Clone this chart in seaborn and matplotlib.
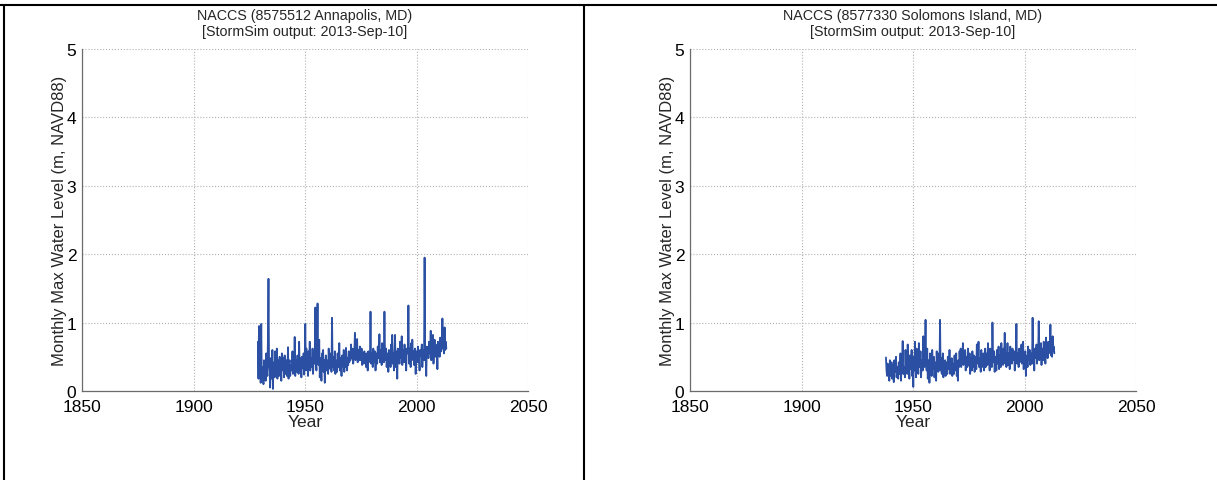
import numpy as np
import pandas as pd
import seaborn as sns
import matplotlib
matplotlib.use("Agg")
import matplotlib.pyplot as plt
from matplotlib.lines import Line2D
from matplotlib.ticker import MultipleLocator

# ---------------- data (quarterly samples of monthly max water level, m NAVD88) ----------------
annapolis_start = 1928.875
annapolis_vals = [
    0.72,
    0.18, 0.95, 0.25, 0.40,  # 1929
    0.12, 0.98, 0.20, 0.35,  # 1930
    0.28, 0.10, 0.45, 0.22,
    0.35, 0.15, 0.55, 0.30,
    0.22, 0.75, 1.64, 0.40,  # 1933
    0.30, 0.05, 0.48, 0.25,
    0.18, 0.60, 0.03, 0.38,
    0.42, 0.20, 0.58, 0.30,
    0.25, 0.62, 0.18, 0.45,
    0.35, 0.22, 0.50, 0.28,
    0.40, 0.15, 0.55, 0.32,
    0.30, 0.48, 0.20, 0.52,  # 1940
    0.38, 0.25, 0.45, 0.22,
    0.28, 0.64, 0.18, 0.40,
    0.45, 0.22, 0.38, 0.30,
    0.35, 0.58, 0.25, 0.42,
    0.30, 0.79, 0.22, 0.45,
    0.40, 0.28, 0.52, 0.35,
    0.25, 0.72, 0.30, 0.48,
    0.42, 0.20, 0.50, 0.33,
    0.38, 0.55, 0.24, 0.45,
    0.98, 0.30, 0.62, 0.35,  # 1950
    0.45, 0.22, 0.58, 0.38,
    0.72, 0.30, 0.48, 0.40,
    0.35, 0.62, 0.25, 0.50,
    0.40, 0.55, 1.22, 0.42,
    0.30, 0.60, 1.28, 0.45,  # 1955
    0.38, 0.75, 0.20, 0.48,
    0.42, 0.15, 0.55, 0.35,
    0.60, 0.28, 0.45, 0.12,
    0.38, 0.52, 0.30, 0.45,
    0.40, 0.25, 0.62, 0.38,  # 1960
    0.48, 0.32, 0.55, 0.28,
    1.07, 0.35, 0.50, 0.40,
    0.30, 0.58, 0.25, 0.45,
    0.42, 0.28, 0.55, 0.35,
    0.38, 0.70, 0.30, 0.48,
    0.45, 0.22, 0.52, 0.36,
    0.40, 0.60, 0.28, 0.50,
    0.35, 0.63, 0.42, 0.30,
    0.48, 0.38, 0.58, 0.42,
    0.55, 0.45, 0.68, 0.50,  # 1970
    0.48, 0.62, 0.40, 0.58,
    0.52, 0.85, 0.45, 0.55,
    0.50, 0.76, 0.42, 0.60,
    0.58, 0.45, 0.65, 0.50,
    0.45, 0.62, 0.38, 0.55,
    0.52, 0.40, 0.58, 0.45,
    0.48, 0.35, 0.55, 0.42,
    0.30, 0.58, 0.42, 0.50,
    0.45, 1.16, 0.40, 0.55,  # 1979
    0.50, 0.35, 0.62, 0.45,  # 1980
    0.42, 0.58, 0.30, 0.52,
    0.55, 0.40, 0.65, 0.48,
    0.48, 0.83, 0.42, 0.60,
    0.52, 0.38, 0.70, 0.45,
    0.58, 0.42, 1.16, 0.50,  # 1985
    0.45, 0.62, 0.35, 0.55,
    0.50, 0.28, 0.60, 0.42,
    0.55, 0.35, 0.68, 0.48,
    0.82, 0.40, 0.55, 0.30,
    0.50, 0.82, 0.35, 0.58,  # 1990
    0.45, 0.18, 0.62, 0.50,
    0.58, 0.40, 0.72, 0.48,
    0.52, 0.80, 0.38, 0.55,
    0.60, 0.42, 0.68, 0.50,
    0.48, 0.30, 0.62, 0.55,
    0.55, 1.25, 0.40, 0.62,  # 1996
    0.50, 0.35, 0.70, 0.45,
    0.75, 0.48, 0.58, 0.38,
    0.52, 0.62, 0.25, 0.55,
    0.58, 0.42, 0.65, 0.50,  # 2000
    0.48, 0.30, 0.60, 0.52,
    0.55, 0.68, 0.35, 0.58,
    0.60, 0.45, 1.95, 0.55,  # 2003
    0.50, 0.22, 0.65, 0.58,
    0.62, 0.48, 0.72, 0.55,
    0.58, 0.88, 0.45, 0.65,
    0.55, 0.82, 0.40, 0.62,
    0.75, 0.50, 0.68, 0.58,
    0.60, 0.32, 0.72, 0.55,
    0.65, 0.50, 0.78, 0.60,  # 2010
    0.58, 0.70, 1.06, 0.62,
    0.68, 0.55, 0.93, 0.60,
    0.72, 0.62,              # 2013
]

solomons_start = 1937.875
solomons_vals = [
    0.49,
    0.30, 0.22, 0.40, 0.25,  # 1938
    0.35, 0.15, 0.45, 0.28,
    0.22, 0.42, 0.18, 0.35,  # 1940
    0.38, 0.13, 0.45, 0.30,
    0.28, 0.50, 0.20, 0.33,
    0.35, 0.18, 0.42, 0.25,
    0.30, 0.55, 0.15, 0.38,
    0.42, 0.73, 0.25, 0.35,
    0.30, 0.20, 0.60, 0.35,
    0.45, 0.25, 0.68, 0.30,
    0.38, 0.18, 0.52, 0.40,
    0.32, 0.60, 0.22, 0.45,
    0.06, 0.50, 0.30, 0.72,  # 1950
    0.40, 0.20, 0.62, 0.35,
    0.48, 0.25, 0.70, 0.38,
    0.35, 0.58, 0.20, 0.45,
    0.42, 0.30, 0.80, 0.38,
    0.35, 0.55, 1.04, 0.40,  # 1955
    0.30, 0.62, 0.18, 0.45,
    0.40, 0.12, 0.55, 0.35,
    0.48, 0.22, 0.60, 0.32,
    0.35, 0.50, 0.20, 0.42,
    0.38, 0.15, 0.58, 0.30,  # 1960
    0.42, 0.28, 0.55, 0.35,
    1.04, 0.30, 0.48, 0.25,
    0.35, 0.55, 0.20, 0.40,
    0.30, 0.45, 0.22, 0.38,
    0.42, 0.25, 0.50, 0.32,
    0.35, 0.60, 0.25, 0.40,
    0.28, 0.48, 0.22, 0.38,
    0.40, 0.25, 0.52, 0.30,
    0.35, 0.55, 0.22, 0.42,
    0.15, 0.45, 0.35, 0.58,  # 1970
    0.42, 0.62, 0.35, 0.50,
    0.45, 0.70, 0.38, 0.52,
    0.40, 0.60, 0.30, 0.48,
    0.50, 0.35, 0.62, 0.42,
    0.38, 0.55, 0.25, 0.45,
    0.48, 0.30, 0.58, 0.40,
    0.35, 0.52, 0.28, 0.45,
    0.50, 0.32, 0.68, 0.42,
    0.40, 0.72, 0.35, 0.48,
    0.45, 0.28, 0.60, 0.38,  # 1980
    0.50, 0.35, 0.55, 0.30,
    0.42, 0.62, 0.35, 0.48,
    0.55, 0.38, 0.70, 0.45,
    0.48, 0.30, 0.62, 0.40,
    0.45, 0.35, 1.00, 0.50,  # 1985
    0.42, 0.58, 0.28, 0.48,
    0.50, 0.30, 0.60, 0.40,
    0.45, 0.65, 0.32, 0.52,
    0.48, 0.35, 0.70, 0.42,
    0.52, 0.38, 0.62, 0.45,  # 1990
    0.85, 0.40, 0.55, 0.35,
    0.48, 0.70, 0.38, 0.55,
    0.50, 0.32, 0.65, 0.45,
    0.55, 0.40, 0.62, 0.48,
    0.45, 0.58, 0.30, 0.52,
    0.50, 0.98, 0.40, 0.55,  # 1996
    0.48, 0.35, 0.62, 0.42,
    0.55, 0.45, 0.68, 0.40,
    0.50, 0.72, 0.32, 0.55,
    0.45, 0.58, 0.22, 0.50,  # 2000
    0.52, 0.35, 0.65, 0.45,
    0.48, 0.60, 0.38, 0.55,
    0.50, 0.40, 1.07, 0.52,  # 2003
    0.55, 0.30, 0.62, 0.48,
    0.52, 0.68, 0.40, 0.58,
    0.55, 1.02, 0.45, 0.60,
    0.50, 0.70, 0.38, 0.58,
    0.62, 0.45, 0.72, 0.52,
    0.55, 0.40, 0.78, 0.50,
    0.60, 0.48, 0.72, 0.55,  # 2010
    0.58, 0.65, 0.97, 0.52,
    0.62, 0.50, 0.80, 0.58,
    0.65, 0.55,              # 2013
]

titles = ["NACCS (8575512 Annapolis, MD)\n[StormSim output: 2013-Sep-10]",
          "NACCS (8577330 Solomons Island, MD)\n[StormSim output: 2013-Sep-10]"]
ylabel = "Monthly Max Water Level (m, NAVD88)"
xlabel = "Year"
xticks = [1850, 1900, 1950, 2000, 2050]
yticks = [0, 1, 2, 3, 4, 5]

# ---------------- styling ----------------
sns.set_style("white")
plt.rcParams["font.family"] = ["Liberation Sans", "DejaVu Sans"]

W, H = 1217, 481
fig = plt.figure(figsize=(W / 100, H / 100), dpi=100)

line_color = "#2a4fa3"
spine_color = "#6b6b6b"

def make_df(start, vals):
    t = start + np.arange(len(vals)) * 0.25
    return pd.DataFrame({"year": t, "level": vals})

series = [make_df(annapolis_start, annapolis_vals), make_df(solomons_start, solomons_vals)]
lefts = [82 / W, 690 / W]
ax_w = 446 / W
ax_b = 1 - 392 / H
ax_h = 342 / H

for i in range(2):
    ax = fig.add_axes([lefts[i], ax_b, ax_w, ax_h])
    sns.lineplot(data=series[i], x="year", y="level", ax=ax, color=line_color,
                 linewidth=1.3, estimator=None, sort=False)
    ax.set_xlim(1850, 2050)
    ax.set_ylim(0, 5)
    ax.set_xticks(xticks)
    ax.set_yticks(yticks)
    ax.xaxis.set_minor_locator(MultipleLocator(5))
    ax.yaxis.set_minor_locator(MultipleLocator(0.2))
    ax.tick_params(axis="both", which="both", direction="in", colors=spine_color,
                   labelcolor="black", labelsize=12.5)
    ax.tick_params(axis="both", which="major", length=4, width=0.8)
    ax.tick_params(axis="x", which="major", pad=6)
    ax.tick_params(axis="y", which="major", pad=4)
    ax.tick_params(axis="both", which="minor", length=3, width=0.6)
    ax.grid(True, which="major", linestyle=":", color="#b0b0b0", linewidth=0.8)
    for s in ["top", "right"]:
        ax.spines[s].set_visible(False)
    for s in ["left", "bottom"]:
        ax.spines[s].set_color(spine_color)
        ax.spines[s].set_linewidth(0.9)
    ax.set_xlabel(xlabel, fontsize=12.5, labelpad=0)
    ax.set_ylabel(ylabel, fontsize=12, labelpad=0)
    ax.set_title(titles[i], fontsize=10.3, pad=10, linespacing=1.2)

# frame lines of the original screenshot
fig.add_artist(Line2D([0, 1], [1 - 6 / H, 1 - 6 / H], transform=fig.transFigure, color="black", lw=1.5))
fig.add_artist(Line2D([4 / W, 4 / W], [0, 1 - 6 / H], transform=fig.transFigure, color="black", lw=1.5))
fig.add_artist(Line2D([584 / W, 584 / W], [0, 1 - 6 / H], transform=fig.transFigure, color="black", lw=1.5))

fig.savefig("out.png", dpi=100)
